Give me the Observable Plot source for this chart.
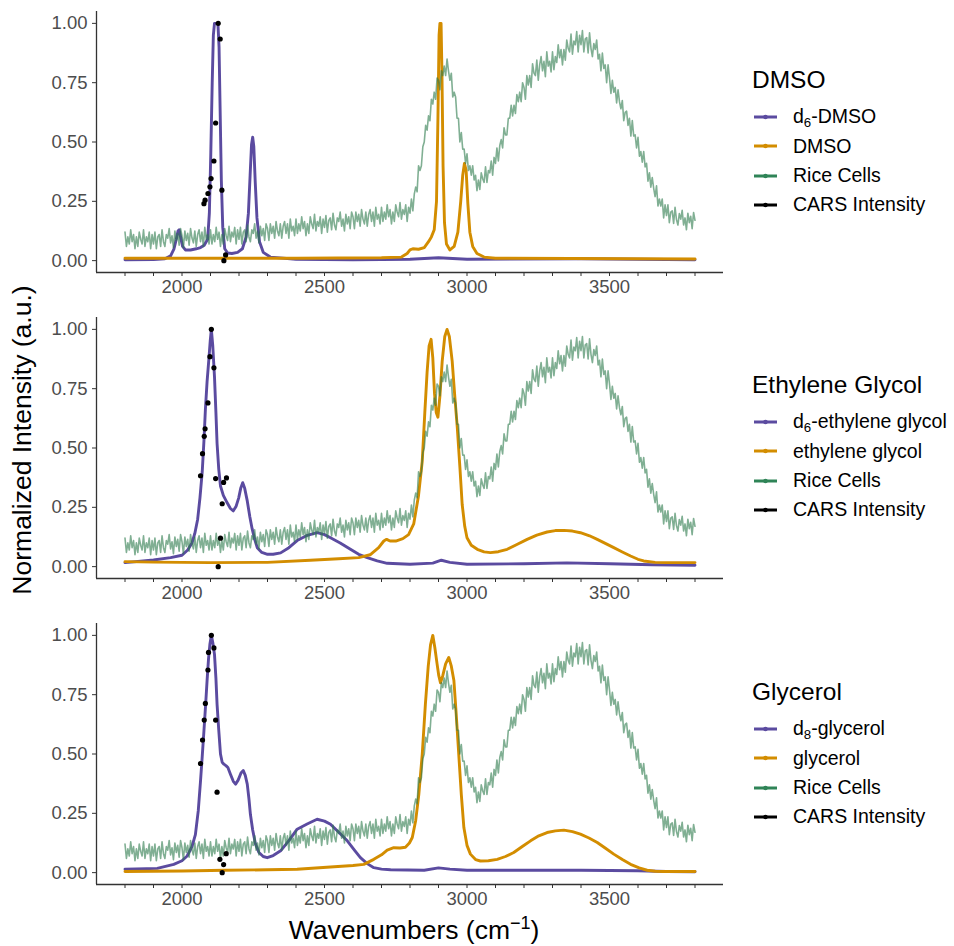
<!DOCTYPE html>
<html><head><meta charset="utf-8">
<script src="https://cdn.jsdelivr.net/npm/d3@7"></script>
<script src="https://cdn.jsdelivr.net/npm/@observablehq/plot@0.6"></script>
<style>
body{margin:0;background:#fff;font-family:"Liberation Sans",Arial,sans-serif;}
#root{position:relative;width:954px;height:946px;overflow:hidden;}
.panel{position:absolute;left:0;}
.ltitle{position:absolute;left:752px;font-size:24.5px;line-height:28px;color:#000;white-space:nowrap;}
.litem{position:absolute;left:793px;font-size:19.5px;line-height:23px;color:#000;white-space:nowrap;}
.lkey{position:absolute;left:754px;}
sub{font-size:0.68em;vertical-align:-0.28em;line-height:0;}
sup{font-size:0.68em;vertical-align:0.55em;line-height:0;}
.ytitle{position:absolute;left:22px;top:440px;transform:translate(-50%,-50%) rotate(-90deg);font-size:26.5px;white-space:nowrap;color:#000;}
.xtitle{position:absolute;left:414px;top:930px;transform:translate(-50%,-50%);font-size:26.5px;white-space:nowrap;color:#000;}
</style></head>
<body><div id="root"></div>
<script>
// ---------------- data ----------------
const xTicks = [1800,1900,2000,2100,2200,2300,2400,2500,2600,2700,2800,2900,3000,3100,3200,3300,3400,3500,3600,3700,3800];
const xLabels = [2000,2500,3000,3500];
const yTicks = [0,0.25,0.5,0.75,1];

const panelTitles = ["DMSO","Ethylene Glycol","Glycerol"];
const seriesNames = [
  ["d<sub>6</sub>-DMSO","DMSO","Rice Cells","CARS Intensity"],
  ["d<sub>6</sub>-ethylene glycol","ethylene glycol","Rice Cells","CARS Intensity"],
  ["d<sub>8</sub>-glycerol","glycerol","Rice Cells","CARS Intensity"]
];

// Rice cells spectrum, sampled every 5 cm^-1 starting at 1800 (one row per 100 cm^-1)
const riceStart = 1800, riceStep = 5;
const riceCells = [
.12,.06,.10,.07,.13,.08,.11,.05,.10,.06,.12,.09,.07,.13,.06,.10,.08,.12,.05,.11,
.07,.12,.05,.10,.11,.06,.13,.08,.06,.11,.095,.135,.075,.105,.055,.125,.085,.115,.065,.135,
.105,.055,.125,.085,.115,.065,.135,.095,.075,.125,.06,.11,.13,.08,.12,.06,.14,.09,.11,.07,
.13,.07,.11,.08,.14,.09,.12,.06,.11,.07,.135,.105,.085,.145,.08,.12,.10,.14,.07,.13,
.09,.14,.07,.12,.13,.08,.15,.10,.08,.13,.115,.155,.095,.125,.075,.145,.105,.135,.085,.155,
.135,.085,.155,.115,.145,.095,.165,.125,.105,.155,.095,.145,.165,.115,.155,.095,.175,.125,.145,.105,
.175,.115,.155,.125,.185,.135,.165,.105,.155,.115,.185,.155,.135,.195,.125,.165,.145,.185,.115,.175,
.14,.19,.12,.17,.18,.13,.20,.15,.13,.18,.165,.205,.145,.175,.125,.195,.155,.185,.135,.205,
.185,.135,.205,.165,.195,.145,.215,.175,.155,.205,.145,.195,.215,.165,.205,.145,.225,.175,.195,.155,
.225,.165,.205,.175,.235,.185,.215,.155,.205,.165,.235,.205,.185,.245,.175,.215,.195,.235,.165,.225,
.20,.26,.21,.28,.31,.29,.40,.38,.40,.48,.50,.57,.55,.61,.59,.68,.66,.71,.68,.77,
.76,.72,.80,.78,.82,.78,.85,.80,.76,.79,.69,.71,.69,.60,.60,.50,.54,.47,.47,.41,
.45,.38,.40,.36,.40,.34,.36,.295,.34,.30,.37,.345,.33,.395,.33,.38,.37,.42,.36,.435,
.41,.475,.42,.485,.51,.475,.56,.53,.53,.60,.60,.655,.61,.655,.62,.70,.67,.71,.67,.75,
.73,.68,.78,.74,.78,.73,.83,.79,.78,.845,.76,.825,.86,.80,.84,.775,.88,.82,.84,.795,
.88,.805,.86,.835,.91,.855,.89,.825,.89,.845,.93,.895,.88,.955,.87,.925,.91,.965,.88,.95,
.91,.97,.88,.935,.94,.875,.96,.895,.86,.915,.89,.93,.85,.87,.80,.875,.81,.825,.75,.825,
.77,.705,.76,.71,.73,.665,.72,.67,.64,.675,.59,.625,.63,.57,.60,.525,.59,.525,.53,.475,
.52,.44,.46,.415,.46,.395,.41,.335,.37,.31,.35,.305,.27,.315,.23,.26,.23,.26,.18,.235,
.19,.235,.16,.205,.21,.157,.225,.173,.15,.198,.175,.212,.15,.18,.13,.20,.16,.187,.135,.203,
.17
];

// [wavenumber, normalized intensity]
const d6DMSO = [[1800,0.004],[1900,0.005],[1940,0.008],[1960,0.02],[1972,0.05],[1980,0.09],[1986,0.125],[1990,0.13],[1995,0.10],[2002,0.06],[2012,0.045],[2030,0.045],[2050,0.05],[2065,0.055],[2078,0.065],[2090,0.09],[2096,0.2],[2101,0.45],[2106,0.75],[2110,0.95],[2114,1.0],[2126,1.0],[2130,0.9],[2134,0.62],[2138,0.34],[2143,0.14],[2150,0.05],[2160,0.032],[2175,0.03],[2195,0.035],[2212,0.05],[2225,0.10],[2233,0.20],[2239,0.36],[2244,0.49],[2248,0.52],[2252,0.48],[2257,0.33],[2263,0.18],[2272,0.08],[2285,0.035],[2310,0.015],[2400,0.006],[2600,0.004],[2800,0.006],[2900,0.012],[3000,0.006],[3400,0.008],[3800,0.004]];
const dmso = [[1800,0.01],[2000,0.01],[2400,0.01],[2700,0.012],[2770,0.015],[2790,0.03],[2800,0.045],[2810,0.05],[2830,0.048],[2850,0.055],[2865,0.08],[2875,0.1],[2885,0.13],[2893,0.25],[2898,0.6],[2902,0.95],[2905,1.0],[2909,1.0],[2912,0.8],[2916,0.4],[2921,0.16],[2928,0.07],[2940,0.045],[2955,0.06],[2968,0.12],[2978,0.25],[2985,0.36],[2991,0.41],[2997,0.38],[3003,0.24],[3010,0.12],[3020,0.06],[3035,0.03],[3060,0.015],[3100,0.01],[3800,0.007]];
const d6EthyleneGlycol = [[1800,0.017],[1900,0.028],[1960,0.038],[2000,0.048],[2020,0.07],[2035,0.1],[2045,0.14],[2055,0.2],[2063,0.29],[2071,0.40],[2077,0.53],[2082,0.66],[2088,0.78],[2094,0.87],[2099,0.95],[2103,1.0],[2108,0.93],[2114,0.80],[2119,0.65],[2123,0.52],[2129,0.41],[2135,0.34],[2145,0.30],[2158,0.27],[2170,0.245],[2180,0.235],[2190,0.255],[2199,0.29],[2206,0.33],[2213,0.354],[2220,0.33],[2229,0.277],[2238,0.21],[2246,0.16],[2255,0.115],[2264,0.08],[2280,0.06],[2300,0.052],[2320,0.052],[2346,0.058],[2375,0.08],[2404,0.11],[2440,0.132],[2474,0.143],[2500,0.135],[2521,0.122],[2555,0.1],[2591,0.073],[2620,0.052],[2650,0.038],[2685,0.024],[2720,0.014],[2800,0.01],[2880,0.015],[2910,0.027],[2940,0.018],[3000,0.01],[3200,0.012],[3350,0.016],[3500,0.012],[3650,0.008],[3800,0.006]];
const ethyleneGlycol = [[1800,0.021],[1900,0.019],[2100,0.017],[2300,0.018],[2450,0.027],[2550,0.033],[2620,0.038],[2660,0.05],[2690,0.08],[2708,0.108],[2718,0.115],[2730,0.108],[2750,0.108],[2775,0.118],[2795,0.135],[2813,0.18],[2830,0.3],[2843,0.445],[2852,0.65],[2860,0.82],[2867,0.93],[2874,0.958],[2880,0.88],[2886,0.73],[2892,0.65],[2898,0.63],[2905,0.72],[2913,0.866],[2922,0.97],[2930,1.0],[2938,0.97],[2948,0.866],[2957,0.72],[2966,0.585],[2975,0.42],[2983,0.263],[2992,0.17],[3000,0.122],[3015,0.09],[3036,0.073],[3060,0.062],[3082,0.059],[3110,0.063],[3141,0.073],[3175,0.093],[3211,0.115],[3245,0.133],[3281,0.146],[3310,0.152],[3340,0.153],[3370,0.15],[3398,0.143],[3430,0.13],[3457,0.115],[3487,0.097],[3515,0.08],[3545,0.062],[3574,0.045],[3600,0.031],[3620,0.024],[3660,0.018],[3700,0.017],[3800,0.017]];
const d8Glycerol = [[1800,0.014],[1913,0.018],[1971,0.035],[2000,0.05],[2018,0.07],[2035,0.11],[2047,0.16],[2057,0.26],[2065,0.387],[2071,0.49],[2077,0.598],[2083,0.71],[2088,0.809],[2093,0.9],[2098,0.964],[2103,1.0],[2108,0.97],[2114,0.92],[2119,0.82],[2123,0.71],[2129,0.6],[2135,0.50],[2141,0.465],[2147,0.457],[2155,0.45],[2161,0.443],[2170,0.415],[2180,0.385],[2188,0.373],[2197,0.39],[2207,0.42],[2215,0.43],[2222,0.41],[2229,0.373],[2235,0.31],[2240,0.246],[2248,0.18],[2258,0.12],[2270,0.085],[2285,0.068],[2299,0.063],[2320,0.072],[2346,0.092],[2375,0.135],[2404,0.183],[2439,0.205],[2474,0.225],[2500,0.217],[2521,0.204],[2550,0.17],[2580,0.134],[2605,0.095],[2626,0.063],[2650,0.038],[2673,0.021],[2700,0.015],[2732,0.012],[2850,0.01],[2900,0.02],[2940,0.015],[3000,0.01],[3400,0.01],[3600,0.008],[3700,0.005],[3800,0.004]];
const glycerol = [[1800,0.005],[2000,0.007],[2150,0.01],[2300,0.012],[2404,0.014],[2521,0.024],[2600,0.03],[2638,0.035],[2673,0.056],[2700,0.075],[2720,0.095],[2743,0.105],[2765,0.104],[2784,0.107],[2798,0.125],[2808,0.148],[2820,0.22],[2831,0.33],[2843,0.5],[2854,0.71],[2864,0.87],[2872,0.96],[2880,1.0],[2887,0.95],[2895,0.88],[2901,0.83],[2907,0.80],[2915,0.83],[2925,0.88],[2936,0.907],[2945,0.87],[2954,0.81],[2962,0.67],[2971,0.50],[2980,0.33],[2989,0.19],[3000,0.115],[3012,0.078],[3030,0.055],[3047,0.049],[3075,0.05],[3106,0.056],[3135,0.068],[3164,0.085],[3194,0.11],[3223,0.134],[3252,0.155],[3281,0.169],[3310,0.176],[3340,0.179],[3370,0.173],[3398,0.162],[3428,0.146],[3457,0.127],[3486,0.103],[3515,0.078],[3545,0.055],[3574,0.035],[3604,0.02],[3632,0.01],[3660,0.006],[3690,0.005],[3800,0.005]];

const carsDMSO = [[2127,1.0],[2134,0.934],[2118,0.58],[2112,0.42],[2102,0.346],[2098,0.311],[2091,0.283],[2081,0.255],[2077,0.24],[2140,0.297],[2153,0.024],[2147,0.0]];
const carsEthyleneGlycol = [[2103,1.0],[2098,0.885],[2112,0.838],[2091,0.69],[2081,0.581],[2078,0.549],[2072,0.476],[2065,0.383],[2118,0.371],[2146,0.355],[2156,0.374],[2141,0.265],[2135,0.12],[2127,0.0]];
const carsGlycerol = [[2103,1.0],[2112,0.947],[2093,0.928],[2091,0.854],[2082,0.713],[2078,0.643],[2118,0.643],[2072,0.559],[2065,0.46],[2123,0.339],[2155,0.08],[2133,0.056],[2146,0.034],[2141,0.0]];

// ---------------- styling ----------------
const colPurple = "#5B4BA0", colOrange = "#D38D00", colGreen = "#2B7A4B", colGreenKey = "#2F8457";
const riceData = riceCells.map((v,i) => ({wn: riceStart + i*riceStep, v}));
const root = document.getElementById("root");

function drawPanel(top, deut, prot, cars) {
  const chart = Plot.plot({
    width: 730, height: 302,
    marginLeft: 96, marginRight: 7, marginTop: 11, marginBottom: 30,
    style: {fontFamily: "'Liberation Sans', Arial, sans-serif", fontSize: "18.5px", background: "transparent", overflow: "visible"},
    x: {domain: [1700, 3900]},
    y: {domain: [-0.05, 1.05]},
    marks: [
      Plot.line(deut, {x: d => d[0], y: d => d[1], stroke: colPurple, strokeWidth: 2.9}),
      Plot.line(prot, {x: d => d[0], y: d => d[1], stroke: colOrange, strokeWidth: 2.9}),
      Plot.line(riceData, {x: "wn", y: "v", stroke: colGreen, strokeOpacity: 0.6, strokeWidth: 1.6}),
      Plot.dot(cars, {x: d => d[0], y: d => d[1], r: 2.6, fill: "black", stroke: "none"}),
      Plot.ruleX([1700], {stroke: "#333", strokeWidth: 1.3}),
      Plot.ruleY([-0.05], {stroke: "#333", strokeWidth: 1.3}),
      Plot.axisX({ticks: xTicks, tickFormat: d => xLabels.includes(d) ? String(d) : "", tickSize: 4, tickPadding: 3, stroke: "#333", fill: "#4D4D4D", label: null}),
      Plot.axisY({ticks: yTicks, tickFormat: d => d.toFixed(2), tickSize: 4, tickPadding: 5, stroke: "#333", fill: "#4D4D4D", label: null})
    ]
  });
  const wrap = document.createElement("div");
  wrap.className = "panel";
  wrap.style.top = top + "px";
  wrap.appendChild(chart);
  root.appendChild(wrap);
}

function drawLegend(titleY, title, names) {
  const t = document.createElement("div");
  t.className = "ltitle";
  t.style.top = (titleY - 14) + "px";
  t.textContent = title;
  root.appendChild(t);
  const cols = [colPurple, colOrange, colGreenKey, "#000"];
  names.forEach((n, j) => {
    const cy = titleY + 36.7 + j * 29.4;
    const key = document.createElementNS("http://www.w3.org/2000/svg", "svg");
    key.setAttribute("class", "lkey");
    key.setAttribute("width", 24); key.setAttribute("height", 10);
    key.style.top = (cy - 5) + "px";
    key.innerHTML = `<line x1="0" x2="23" y1="5" y2="5" stroke="${cols[j]}" stroke-width="3"/><circle cx="11.5" cy="5" r="2.3" fill="${cols[j]}"/>`;
    root.appendChild(key);
    const it = document.createElement("div");
    it.className = "litem";
    it.style.top = (cy - 11.5) + "px";
    it.innerHTML = n;
    root.appendChild(it);
  });
}

drawPanel(0, d6DMSO, dmso, carsDMSO);
drawPanel(305.5, d6EthyleneGlycol, ethyleneGlycol, carsEthyleneGlycol);
drawPanel(612, d8Glycerol, glycerol, carsGlycerol);

drawLegend(80, panelTitles[0], seriesNames[0]);
drawLegend(385, panelTitles[1], seriesNames[1]);
drawLegend(692, panelTitles[2], seriesNames[2]);

const yt = document.createElement("div");
yt.className = "ytitle"; yt.textContent = "Normalized Intensity (a.u.)";
root.appendChild(yt);
const xt = document.createElement("div");
xt.className = "xtitle"; xt.innerHTML = "Wavenumbers (cm<sup>−1</sup>)";
root.appendChild(xt);
</script>
</body></html>
